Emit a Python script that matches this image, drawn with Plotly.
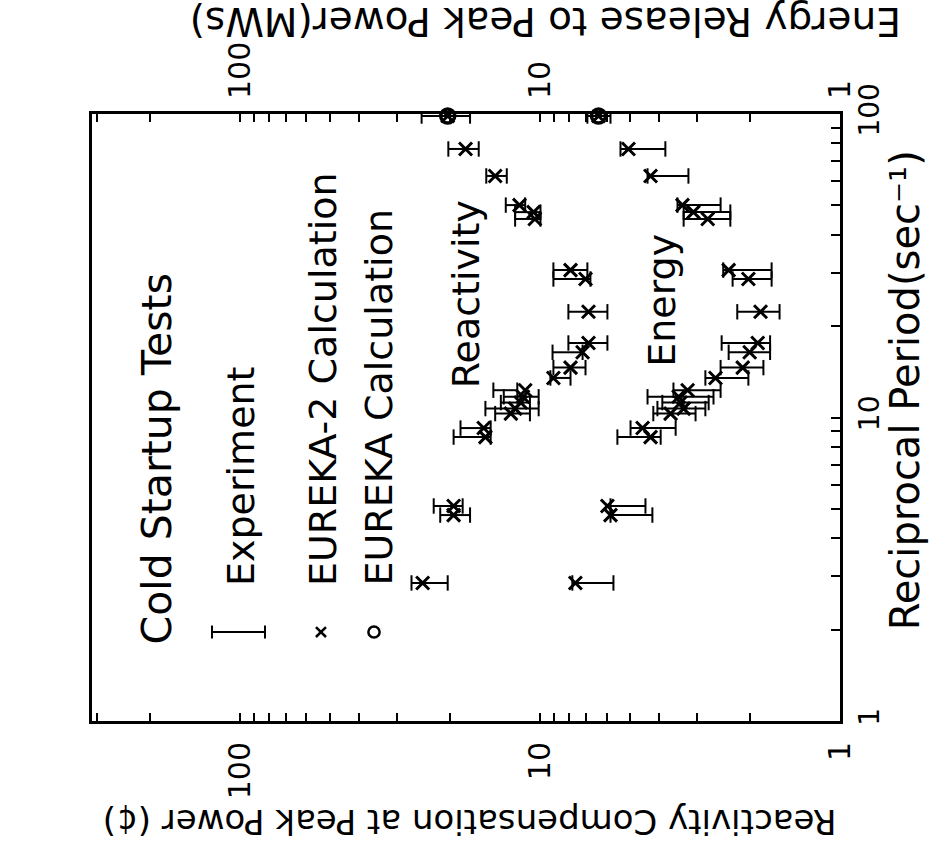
import plotly.graph_objects as go

# Cold startup tests: reciprocal period (1/s) for each transient
period = [98.5, 76.7, 62.5, 50.1, 47.5, 45.1, 30.6, 28.6, 22.3, 17.6, 16.4, 14.6,
          13.5, 12.3, 11.7, 11.2, 10.7, 10.3, 9.23, 8.62, 5.11, 4.77, 2.85]

# Reactivity compensation at peak power (cents)
react_calc = [20.3, 17.7, 14.1, 11.7, 10.5, 10.4, 7.91, 7.05, 6.89, 6.89, 7.21, 7.91,
              9.02, 11.2, 11.4, 11.6, 12.1, 12.5, 15.4, 15.2, 19.4, 19.4, 24.6]
react_lo = [17.1, 16.0, 12.9, 11.2, 9.96, 9.96, 6.95, 6.79, 5.96, 5.96, 7.21, 7.05,
            7.91, 11.9, 10.1, 10.8, 10.1, 10.8, 14.6, 14.6, 18.1, 17.1, 20.3]
react_hi = [24.8, 20.2, 15.1, 13.0, 12.1, 12.1, 9.02, 9.02, 8.04, 8.04, 9.08, 9.02,
            9.23, 14.3, 13.2, 13.5, 15.2, 14.1, 18.4, 19.4, 22.6, 21.5, 26.8]

# Energy release to peak power (MWs)
energy_calc = [6.38, 5.07, 4.28, 3.35, 3.08, 2.76, 2.35, 2.02, 1.84, 1.88, 2.00, 2.11,
               2.60, 3.22, 3.45, 3.40, 3.32, 3.67, 4.55, 4.28, 5.96, 5.82, 7.62]
energy_lo = [5.82, 3.82, 3.20, 2.50, 2.32, 2.32, 1.69, 1.69, 1.59, 1.71, 1.71, 1.80,
             2.02, 2.50, 2.64, 2.74, 2.81, 3.03, 3.53, 3.96, 4.45, 4.22, 5.69]
energy_hi = [6.95, 5.39, 4.38, 3.48, 3.32, 3.32, 2.45, 2.28, 2.20, 2.48, 2.35, 2.50,
             2.81, 3.59, 4.38, 3.91, 4.06, 4.19, 4.99, 5.52, 5.82, 5.82, 7.80]

# Original EUREKA calculation
eureka_period = [98.5]
eureka_react = [20.3]
eureka_energy = [6.38]

value_ticks = [1, 2, 3, 4, 5, 6, 7, 8, 9, 10, 20, 30, 40, 50, 60, 70, 80, 90, 100, 200, 300]
value_labels = ["1"] + [""] * 8 + ["10"] + [""] * 8 + ["100", "", ""]
period_ticks = [1, 2, 3, 4, 5, 6, 7, 8, 9, 10, 20, 30, 40, 50, 60, 70, 80, 90, 100]
period_labels = ["1"] + [""] * 8 + ["10"] + [""] * 8 + ["100"]

FONT = "DejaVu Sans"
INK = "black"


def bar_segments(lo, hi, p):
    xs, ys = [], []
    for a, b, y in zip(lo, hi, p):
        xs += [a, b, None]
        ys += [y, y, None]
    return xs, ys


fig = go.Figure()

for lo, hi, ax in ((react_lo, react_hi, "x"), (energy_lo, energy_hi, "x2")):
    bx, by = bar_segments(lo, hi, period)
    fig.add_trace(go.Scatter(
        x=bx, y=by, xaxis=ax, yaxis="y", mode="lines+markers",
        line=dict(color=INK, width=2),
        marker=dict(symbol="line-ns", size=11, line=dict(color=INK, width=2)),
        showlegend=False, hoverinfo="skip"))

for vals, ax in ((react_calc, "x"), (energy_calc, "x2")):
    fig.add_trace(go.Scatter(
        x=vals, y=period, xaxis=ax, yaxis="y", mode="markers",
        marker=dict(symbol="x-thin", size=13, color=INK, line=dict(color=INK, width=3)),
        showlegend=False))

for vals, ax in ((eureka_react, "x"), (eureka_energy, "x2")):
    fig.add_trace(go.Scatter(
        x=vals, y=eureka_period, xaxis=ax, yaxis="y", mode="markers",
        marker=dict(symbol="circle-open", size=14, color=INK, line=dict(color=INK, width=3.5)),
        showlegend=False, cliponaxis=False))

value_axis = dict(
    type="log", range=[2.493, 0], showgrid=False, zeroline=False,
    showline=True, linecolor=INK, linewidth=3,
    ticks="inside", ticklen=8, tickwidth=2, tickcolor=INK,
    tickvals=value_ticks, ticktext=value_labels, tickangle=-90,
    tickfont=dict(family=FONT, size=30, color=INK), ticklabelstandoff=6,
)

fig.update_layout(
    width=932, height=857, autosize=False,
    margin=dict(l=92, r=92, t=114, b=136),
    paper_bgcolor="white", plot_bgcolor="white",
    font=dict(family=FONT, color=INK),
    xaxis=dict(**value_axis, side="bottom", anchor="y"),
    xaxis2=dict(**value_axis, side="top", anchor="y", overlaying="x"),
    yaxis=dict(
        type="log", range=[0, 2], side="right", showgrid=False, zeroline=False,
        showline=True, linecolor=INK, linewidth=3, mirror=True,
        ticks="inside", ticklen=9, tickwidth=2, tickcolor=INK,
        tickvals=period_ticks, ticktext=period_labels, tickangle=-90,
        tickfont=dict(family=FONT, size=28, color=INK), ticklabelstandoff=2,
    ),
    showlegend=False,
)

# Rotated titles and labels
texts = [
    ("Reciprocal Period(sec⁻¹)", 1.087, 0.545, -90, 40, "center", "middle"),
    ("Reactivity Compensation at Peak Power (¢)", 0.505, -0.166, 180, 34, "center", "middle"),
    ("Energy Release to Peak Power(MWs)", 0.6056, 1.152, 180, 39, "center", "middle"),
    ("Cold Startup Tests", 0.0869, 0.122, -90, 41, "center", "bottom"),
    ("Experiment", 0.1992, 0.219, -90, 38, "center", "bottom"),
    ("EUREKA-2 Calculation", 0.3088, 0.219, -90, 38, "center", "bottom"),
    ("EUREKA Calculation", 0.3837, 0.219, -90, 38, "center", "bottom"),
    ("Reactivity", 0.500, 0.545, -90, 38, "center", "bottom"),
    ("Energy", 0.762, 0.581, -90, 38, "center", "bottom"),
]
for txt, x, y, ang, size, xa, ya in texts:
    fig.add_annotation(text=txt, x=x, y=y, xref="paper", yref="paper",
                       textangle=ang, showarrow=False, xanchor=xa, yanchor=ya,
                       font=dict(family=FONT, size=size, color=INK))

# Legend keys: experiment bar, EUREKA-2 cross, EUREKA circle
ky = 0.1466
key_line = dict(color=INK, width=2)
fig.add_shape(type="line", xref="paper", yref="paper", x0=0.1604, x1=0.2313, y0=ky, y1=ky, line=key_line)
for kx in (0.1604, 0.2313):
    fig.add_shape(type="line", xref="paper", yref="paper", x0=kx, x1=kx,
                  y0=ky - 0.0107, y1=ky + 0.0107, line=key_line)
cx, dx, dy = 0.3061, 0.0067, 0.0082
fig.add_shape(type="line", xref="paper", yref="paper", x0=cx - dx, x1=cx + dx,
              y0=ky - dy, y1=ky + dy, line=dict(color=INK, width=2.5))
fig.add_shape(type="line", xref="paper", yref="paper", x0=cx - dx, x1=cx + dx,
              y0=ky + dy, y1=ky - dy, line=dict(color=INK, width=2.5))
ox, rx, ry = 0.377, 0.0075, 0.0092
fig.add_shape(type="circle", xref="paper", yref="paper", x0=ox - rx, x1=ox + rx,
              y0=ky - ry, y1=ky + ry, line=dict(color=INK, width=2.5))

fig.write_html("out.html")
